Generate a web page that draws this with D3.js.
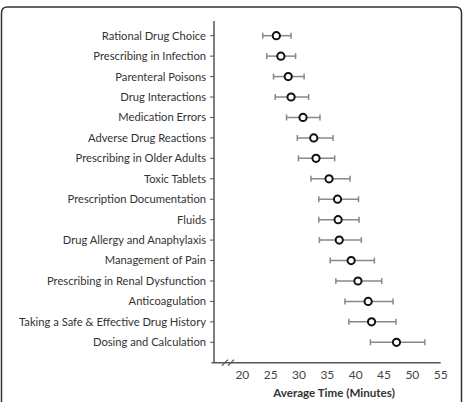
<!DOCTYPE html>
<html>
<head>
<meta charset="utf-8">
<script src="https://cdn.jsdelivr.net/npm/d3@7"></script>
<style>
  body { margin: 0; background: #fff; }
  svg { display: block; }
</style>
</head>
<body>
<svg id="chart"></svg>
<script>
// categories, top to bottom
const topics = [
  "Rational Drug Choice",
  "Prescribing in Infection",
  "Parenteral Poisons",
  "Drug Interactions",
  "Medication Errors",
  "Adverse Drug Reactions",
  "Prescribing in Older Adults",
  "Toxic Tablets",
  "Prescription Documentation",
  "Fluids",
  "Drug Allergy and Anaphylaxis",
  "Management of Pain",
  "Prescribing in Renal Dysfunction",
  "Anticoagulation",
  "Taking a Safe & Effective Drug History",
  "Dosing and Calculation"
];
const meanTime = [26.0, 26.8, 28.1, 28.6, 30.7, 32.6, 33.0, 35.3, 36.8, 36.9, 37.1, 39.2, 40.4, 42.2, 42.8, 47.2];
const lowTime  = [23.6, 24.3, 25.5, 25.8, 27.8, 29.7, 29.9, 32.1, 33.5, 33.5, 33.6, 35.5, 36.5, 38.1, 38.8, 42.6];
const highTime = [28.6, 29.4, 30.9, 31.7, 33.7, 36.0, 36.3, 39.0, 40.5, 40.6, 41.0, 43.3, 44.6, 46.6, 47.1, 52.2];
const xTicks = [20, 25, 30, 35, 40, 45, 50, 55];

const width = 467, height = 402;
const svg = d3.select('#chart').attr('width', width).attr('height', height)
    .style('font-family', 'Lato, "Open Sans", sans-serif');

// rounded frame (top corners only visible)
const fr = 6;
svg.append('path')
    .attr('d', `M1.5,${height} L1.5,${7 + fr} Q1.5,7 ${1.5 + fr},7 L${461.5 - fr},7 Q461.5,7 461.5,${7 + fr} L461.5,${height}`)
    .attr('fill', 'none')
    .attr('stroke', '#333')
    .attr('stroke-width', 1.5);

const x = d3.scaleLinear().domain([15, 55]).range([214, 440.7]);
const y = d3.scalePoint().domain(topics).range([35.7, 342.3]);
const axisY0 = 21, axisY1 = 362.7;

const data = topics.map((t, i) => ({ name: t, mean: meanTime[i], lo: lowTime[i], hi: highTime[i] }));

// y axis
const gy = svg.append('g');
gy.append('line')
    .attr('x1', x(15)).attr('x2', x(15))
    .attr('y1', axisY0).attr('y2', axisY1)
    .attr('stroke', '#555').attr('stroke-width', 1.5);
gy.selectAll('line.tick')
    .data(topics)
    .join('line')
    .attr('class', 'tick')
    .attr('x1', x(15) - 4).attr('x2', x(15))
    .attr('y1', d => y(d)).attr('y2', d => y(d))
    .attr('stroke', '#555').attr('stroke-width', 1);
gy.selectAll('text')
    .data(topics)
    .join('text')
    .attr('x', x(15) - 8)
    .attr('y', d => y(d))
    .attr('dy', '0.35em')
    .attr('text-anchor', 'end')
    .attr('font-size', 11.2)
    .attr('fill', '#333')
    .text(d => d);

// x axis
const gx = svg.append('g');
gx.append('line')
    .attr('x1', x(15) - 2.5).attr('x2', x(55))
    .attr('y1', axisY1).attr('y2', axisY1)
    .attr('stroke', '#555').attr('stroke-width', 1.5);
// axis break marks
[225, 231].forEach(bx => {
    gx.append('line')
        .attr('x1', bx - 3).attr('y1', axisY1 + 3)
        .attr('x2', bx + 3).attr('y2', axisY1 - 3)
        .attr('stroke', '#555').attr('stroke-width', 1.2);
});
gx.selectAll('text')
    .data(xTicks)
    .join('text')
    .attr('x', d => x(d))
    .attr('y', axisY1 + 8)
    .attr('dy', '0.71em')
    .attr('text-anchor', 'middle')
    .attr('font-size', 12)
    .attr('fill', '#444')
    .text(d => d);
svg.append('text')
    .attr('x', 334)
    .attr('y', 393)
    .attr('dy', '0.35em')
    .attr('text-anchor', 'middle')
    .attr('font-size', 11.6)
    .attr('font-weight', 'bold')
    .attr('fill', '#333')
    .text('Average Time (Minutes)');

// error bars
const gErr = svg.append('g').attr('stroke', '#888').attr('stroke-width', 1.5);
gErr.selectAll('line.bar')
    .data(data)
    .join('line')
    .attr('class', 'bar')
    .attr('x1', d => x(d.lo)).attr('x2', d => x(d.hi))
    .attr('y1', d => y(d.name)).attr('y2', d => y(d.name));
gErr.selectAll('line.capL')
    .data(data)
    .join('line')
    .attr('class', 'capL')
    .attr('x1', d => x(d.lo)).attr('x2', d => x(d.lo))
    .attr('y1', d => y(d.name) - 3).attr('y2', d => y(d.name) + 3);
gErr.selectAll('line.capR')
    .data(data)
    .join('line')
    .attr('class', 'capR')
    .attr('x1', d => x(d.hi)).attr('x2', d => x(d.hi))
    .attr('y1', d => y(d.name) - 3).attr('y2', d => y(d.name) + 3);

// mean points
svg.append('g')
    .selectAll('circle')
    .data(data)
    .join('circle')
    .attr('cx', d => x(d.mean))
    .attr('cy', d => y(d.name))
    .attr('r', 3.6)
    .attr('fill', '#fff')
    .attr('stroke', '#111')
    .attr('stroke-width', 2);
</script>
</body>
</html>
